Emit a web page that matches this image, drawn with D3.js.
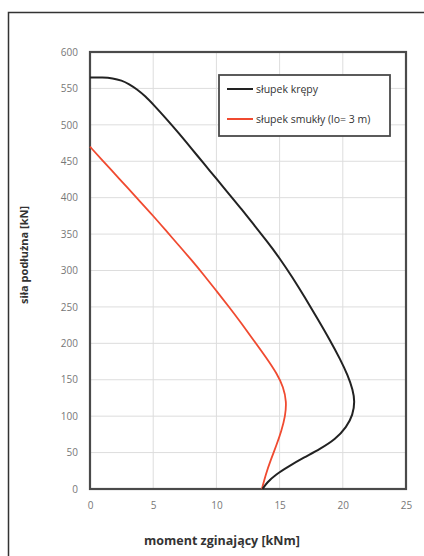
<!DOCTYPE html>
<html><head><meta charset="utf-8">
<script src="https://cdn.jsdelivr.net/npm/d3@7"></script>
<style>body{margin:0;background:#fff}svg{display:block}</style>
</head><body>
<script>
const seriesNames = ["słupek krępy", "słupek smukły (lo= 3 m)"];
const seriesColors = ["#222222", "#f04a30"];
const xTicks = [0, 5, 10, 15, 20, 25];
const yTicks = [0, 50, 100, 150, 200, 250, 300, 350, 400, 450, 500, 550, 600];
// [moment kNm, force kN]
const stockyMoment = [0,1,1.8,2.5,3.1,3.7,4.4,5,6,7,8,9,10,11,12,13,14,15,16,17,18,19,19.8,20.4,20.8,20.95,20.8,20.3,19.4,18.2,16.9,15.7,14.7,14.0,13.65];
const stockyForce  = [565,565,564,561,556,549,539,528,509,489,468,447,426,405,384,362,340,317,291,263,234,204,178,156,136,120,102,85,68,55,43,31,20,9,0];
const slenderMoment = [0,1,2,3,4,5,6,7,8,9,10,11,12,13,14,14.8,15.3,15.55,15.45,15.15,14.75,14.3,13.9,13.6];
const slenderForce  = [470,451,432,413,394,375,355,335,315,294,272,250,227,203,179,158,140,120,100,80,60,40,20,0];

const W = 424, H = 556;
const m = {left: 90, right: 406, top: 52, bottom: 489};
const svg = d3.select("body").append("svg").attr("width", W).attr("height", H);
const font = "'Open Sans', sans-serif";

// outer frame
svg.append("path").attr("d", `M8.5,${H} L8.5,12.5 L${W},12.5`).attr("fill","none").attr("stroke","#333").attr("stroke-width",1.5);

const x = d3.scaleLinear().domain([0, 25]).range([m.left, m.right]);
const y = d3.scaleLinear().domain([0, 600]).range([m.bottom, m.top]);

// grid
const g = svg.append("g");
g.selectAll(".gx").data(xTicks).join("line")
  .attr("x1", d => x(d)).attr("x2", d => x(d)).attr("y1", m.top).attr("y2", m.bottom)
  .attr("stroke", "#dddddd").attr("stroke-width", 1);
g.selectAll(".gy").data(yTicks).join("line")
  .attr("x1", m.left).attr("x2", m.right).attr("y1", d => y(d)).attr("y2", d => y(d))
  .attr("stroke", "#dddddd").attr("stroke-width", 1);

// axes tick labels via d3 axes
const xAxis = svg.append("g").attr("transform", `translate(0,${m.bottom})`)
  .call(d3.axisBottom(x).tickValues(xTicks).tickSize(0).tickPadding(13));
const yAxis = svg.append("g").attr("transform", `translate(${m.left},0)`)
  .call(d3.axisLeft(y).tickValues(yTicks).tickSize(0).tickPadding(12));
[xAxis, yAxis].forEach(a => {
  a.select(".domain").remove();
  a.selectAll("text").attr("font-family", font).attr("font-size", 10).attr("fill", "#777");
});

// plot border
svg.append("rect").attr("x", m.left).attr("y", m.top).attr("width", m.right - m.left).attr("height", m.bottom - m.top)
  .attr("fill", "none").attr("stroke", "#4a4a4a").attr("stroke-width", 2.2);

// lines
const line = d3.line().x(d => x(d[0])).y(d => y(d[1])).curve(d3.curveBasis);
const stocky = stockyMoment.map((v, i) => [v, stockyForce[i]]);
const slender = slenderMoment.map((v, i) => [v, slenderForce[i]]);
svg.append("path").datum(slender).attr("d", line).attr("fill", "none").attr("stroke", seriesColors[1]).attr("stroke-width", 1.8);
svg.append("path").datum(stocky).attr("d", line).attr("fill", "none").attr("stroke", seriesColors[0]).attr("stroke-width", 2);

// legend
const lg = svg.append("g");
lg.append("rect").attr("x", 219).attr("y", 75).attr("width", 171).attr("height", 61)
  .attr("fill", "#fff").attr("stroke", "#4a4a4a").attr("stroke-width", 1.8);
seriesNames.forEach((n, i) => {
  const yy = 89 + i * 30;
  lg.append("line").attr("x1", 227).attr("x2", 253).attr("y1", yy).attr("y2", yy)
    .attr("stroke", seriesColors[i]).attr("stroke-width", 2);
  lg.append("text").attr("x", 256).attr("y", yy + 3.5).text(n)
    .attr("font-family", font).attr("font-size", 10.5).attr("fill", "#333");
});

// titles
svg.append("text").attr("x", 222).attr("y", 545).attr("text-anchor", "middle")
  .attr("font-family", font).attr("font-weight", "bold").attr("font-size", 12.5).attr("fill", "#333")
  .text("moment zginający [kNm]");
svg.append("text").attr("transform", "translate(28,255) rotate(-90)").attr("text-anchor", "middle")
  .attr("font-family", font).attr("font-weight", "bold").attr("font-size", 11).attr("fill", "#333")
  .text("siła podłużna [kN]");
</script>
</body></html>
